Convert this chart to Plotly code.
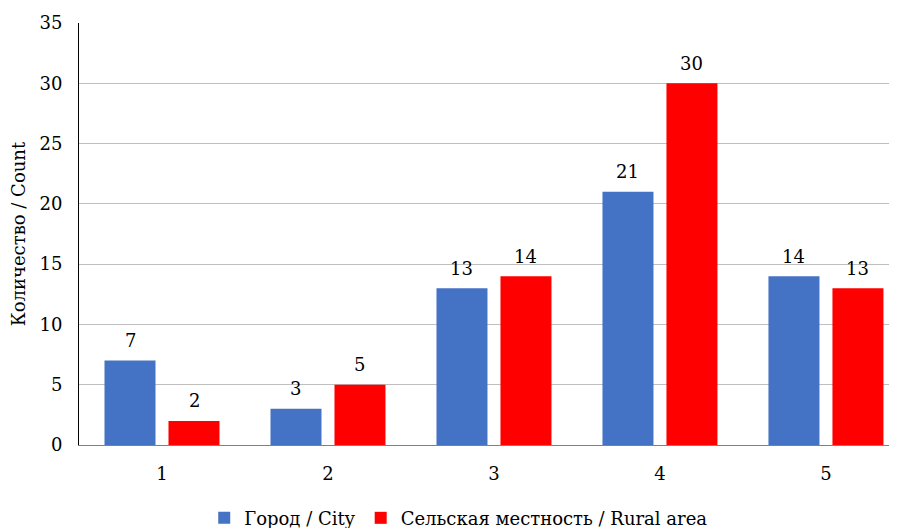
import plotly.graph_objects as go

categories = ["1", "2", "3", "4", "5"]
city = [7, 3, 13, 21, 14]
rural = [2, 5, 14, 30, 13]
series_names = ["Город / City", "Сельская местность / Rural area"]
colors = ["#4472C4", "#FF0000"]

FONT = "DejaVu Serif"
FS = 18

fig = go.Figure()
for name, vals, col in zip(series_names, [city, rural], colors):
    fig.add_trace(go.Bar(
        x=categories, y=vals, name=name,
        marker=dict(color=col, line=dict(width=0)),
    ))

for i, (c, r) in enumerate(zip(city, rural)):
    for v, shift in ((c, -32), (r, 32)):
        fig.add_annotation(x=i, y=v, text=str(v), showarrow=False,
                           xref="x", yref="y", xshift=shift, yanchor="middle", yshift=20,
                           font=dict(family=FONT, size=FS, color="#000"))

fig.update_layout(
    width=889, height=520,
    margin=dict(l=71, r=0, t=15, b=83, autoexpand=False),
    paper_bgcolor="white", plot_bgcolor="white",
    bargap=0.229, bargroupgap=0.203,
    font=dict(family=FONT, size=FS, color="#000"),
    showlegend=True,
    legend=dict(orientation="h", x=0.507, xanchor="center", xref="container",
                y=0.019, yanchor="middle", yref="container",
                font=dict(family=FONT, size=FS), itemwidth=30, traceorder="normal"),
    xaxis=dict(type="category", range=[-0.5, 4.428], showline=True, linecolor="#808080",
               linewidth=1, ticks="", showgrid=False, ticklabelstandoff=12,
               tickfont=dict(family=FONT, size=FS)),
    yaxis=dict(range=[0, 35], dtick=5, showline=True, linecolor="#000", linewidth=1,
               showgrid=True, gridcolor="#BFBFBF", gridwidth=1, ticks="", zeroline=False,
               ticklabelstandoff=12,
               title=dict(text="Количество / Count", font=dict(family=FONT, size=FS), standoff=10),
               tickfont=dict(family=FONT, size=FS)),
)

fig.write_html("out.html")
